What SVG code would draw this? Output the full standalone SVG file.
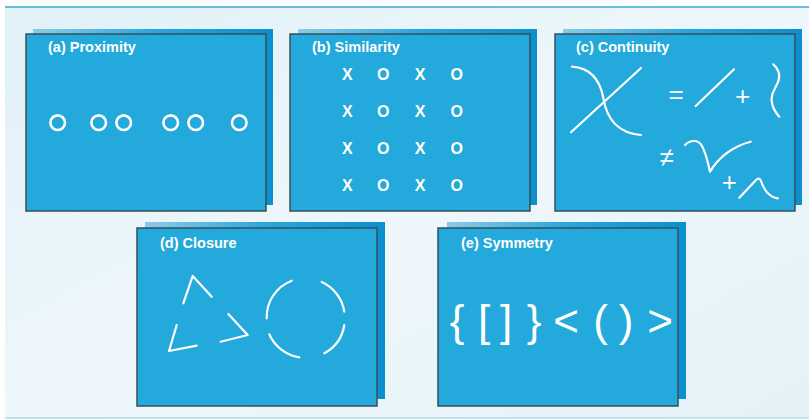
<svg xmlns="http://www.w3.org/2000/svg" width="809" height="419" viewBox="0 0 809 419">
<defs>
<linearGradient id="bg" x1="0" y1="0" x2="1" y2="1">
<stop offset="0" stop-color="#e1f1f8"/>
<stop offset="0.5" stop-color="#eef7fb"/>
<stop offset="1" stop-color="#e4f2f8"/>
</linearGradient>
<linearGradient id="back" x1="0" y1="0" x2="1" y2="0">
<stop offset="0" stop-color="#8ccbe6"/>
<stop offset="0.5" stop-color="#2aa6dc"/>
<stop offset="1" stop-color="#0a8fcf"/>
</linearGradient>
</defs>
<style>
.back{fill:url(#back)}
.front{fill:#23a9db;stroke:#3a4f5a;stroke-width:1.5}
.title{font-family:"Liberation Sans",Arial,sans-serif;font-weight:bold;font-size:14.5px;fill:#ffffff}
.ln{fill:none;stroke:#ffffff;stroke-width:2.2;stroke-linecap:round;stroke-linejoin:round}
.circ{fill:none;stroke:#ffffff;stroke-width:2.6}
.xo{font-family:"Liberation Sans",Arial,sans-serif;font-weight:bold;font-size:16px;fill:#ffffff;text-anchor:middle}
.sym{font-family:"Liberation Sans",Arial,sans-serif;font-size:26px;fill:#ffffff;text-anchor:middle}
.big{font-family:"Liberation Sans",Arial,sans-serif;font-size:44px;fill:#ffffff;text-anchor:middle}
</style>
<rect x="0" y="0" width="809" height="419" fill="#ffffff"/>
<rect x="5" y="7" width="804" height="411" fill="url(#bg)"/>
<line x1="5" y1="7" x2="809" y2="7" stroke="#3aa8dc" stroke-width="1.6"/>
<line x1="5" y1="418" x2="809" y2="418" stroke="#a6dbef" stroke-width="1.4"/>

<g id="proximity">
<rect class="back" x="33" y="29" width="240" height="176"/>
<rect class="front" x="26" y="34" width="240" height="177"/>
<text class="title" x="48" y="52">(a) Proximity</text>
<circle class="circ" cx="57.7" cy="122.7" r="7.3"/>
<circle class="circ" cx="98.7" cy="122.7" r="7.3"/>
<circle class="circ" cx="123.7" cy="122.7" r="7.3"/>
<circle class="circ" cx="170.7" cy="122.7" r="7.3"/>
<circle class="circ" cx="195.7" cy="122.7" r="7.3"/>
<circle class="circ" cx="239.3" cy="122.7" r="7.3"/>
</g>

<g id="similarity">
<rect class="back" x="298" y="29" width="239" height="176"/>
<rect class="front" x="290" y="34" width="240" height="177"/>
<text class="title" x="312" y="52">(b) Similarity</text>
<g class="xo">
<text x="347.3" y="80">X</text><text x="383.3" y="80">O</text><text x="420" y="80">X</text><text x="456.7" y="80">O</text>
<text x="347.3" y="117">X</text><text x="383.3" y="117">O</text><text x="420" y="117">X</text><text x="456.7" y="117">O</text>
<text x="347.3" y="154">X</text><text x="383.3" y="154">O</text><text x="420" y="154">X</text><text x="456.7" y="154">O</text>
<text x="347.3" y="191">X</text><text x="383.3" y="191">O</text><text x="420" y="191">X</text><text x="456.7" y="191">O</text>
</g>
</g>

<g id="continuity">
<rect class="back" x="563" y="29" width="239" height="176"/>
<rect class="front" x="555" y="34" width="240" height="177"/>
<text class="title" x="576" y="52">(c) Continuity</text>
<line class="ln" x1="571" y1="132.3" x2="641" y2="68"/>
<path class="ln" d="M572,66.7 C590,68 600,80 603.3,98 C607,120 618,133 641,135"/>
<text class="sym" x="676" y="103">=</text>
<line class="ln" x1="695.7" y1="106" x2="734" y2="69.3"/>
<text class="sym" x="742.7" y="104.5">+</text>
<path class="ln" d="M773.3,64.3 C778,68 781,75 778,82 C775,89 770,95 772,103 C773,109 776,113 779.3,116.7"/>
<text class="sym" x="666.7" y="165.5">≠</text>
<path class="ln" d="M685,145 C690,140 698,139 702,146 C706,153 708,163 710,171.7 C718,158 733,146 750.7,141.7"/>
<text class="sym" x="729.3" y="190.5">+</text>
<path class="ln" d="M739.3,197.7 L756,180 C758,178 760,178 761,181 C764,190 769,197 777.7,198.3"/>
</g>

<g id="closure">
<rect class="back" x="145" y="222" width="240" height="177"/>
<rect class="front" x="137" y="228" width="240" height="178"/>
<text class="title" x="160" y="248">(d) Closure</text>
<polyline class="ln" points="183.3,303.3 192.7,276 211.7,296.7"/>
<polyline class="ln" points="228.3,314 247.7,335 220.7,341.7"/>
<polyline class="ln" points="176.7,325 169,351 196.7,345.7"/>
<path class="ln" d="M266.7,318.3 A39,39 0 0 1 291.7,280.7"/>
<path class="ln" d="M321.7,282 A39,39 0 0 1 344.3,311.7"/>
<path class="ln" d="M344.3,325 A39,39 0 0 1 324.3,353.3"/>
<path class="ln" d="M299.3,357.3 A39,39 0 0 1 269.3,334.3"/>
</g>

<g id="symmetry">
<rect class="back" x="447" y="222" width="239" height="177"/>
<rect class="front" x="438" y="228" width="240" height="178"/>
<text class="title" x="461" y="248">(e) Symmetry</text>
<g class="big">
<text x="457" y="336">{</text>
<text x="484" y="336">[</text>
<text x="506" y="336">]</text>
<text x="534" y="336">}</text>
<text x="566" y="336">&lt;</text>
<text x="600.5" y="336">(</text>
<text x="626" y="336">)</text>
<text x="660" y="336">&gt;</text>
</g>
</g>
</svg>
